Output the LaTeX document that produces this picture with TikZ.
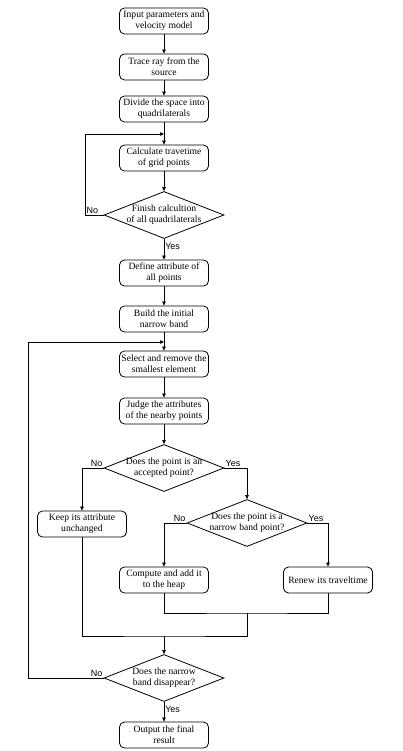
\documentclass[tikz,border=0pt]{standalone}
\usepackage{fontspec}
\setmainfont{Liberation Serif}
\newfontfamily\lblfont{Liberation Sans}
\usetikzlibrary{arrows.meta,shapes.geometric}

\begin{document}
\begin{tikzpicture}[x=1pt,y=-1pt,
  every node/.style={font=\fontsize{9.6}{10.8}\selectfont},
  box/.style={draw,thick,rounded corners=5pt,minimum width=89pt,minimum height=26pt,inner sep=1pt,align=center,fill=white},
  dec/.style={draw,thick,diamond,aspect=2.55,inner sep=-3pt,minimum width=120pt,minimum height=47pt,align=center},
  lbl/.style={font=\lblfont\fontsize{9}{10}\selectfont,inner sep=1pt},
  arr/.style={-{Triangle[length=4pt,width=3.5pt]},semithick},
  ln/.style={semithick}]
 \useasboundingbox (0,0) rectangle (402,751);
 \node[box] (in)      at (164,21)  {Input parameters and\\velocity model};
 \node[box] (trace)   at (164,67)  {Trace ray from the\\source};
 \node[box] (divide)  at (164,109) {Divide the space into\\quadrilaterals};
 \node[box] (calc)    at (164,158) {Calculate travetime\\of grid points};
 \node[dec] (fin)     at (164,215) {Finish calcultion\\of all quadrilaterals};
 \node[box] (define)  at (164,273) {Define attribute of\\all points};
 \node[box] (build)   at (164,319) {Build the initial\\narrow band};
 \node[box] (select)  at (164,364) {Select and remove the\\smallest element};
 \node[box] (judge)   at (164,411) {Judge the attributes\\of the nearby points};
 \node[dec] (acc)     at (164,468) {Does the point is an\\accepted point?};
 \node[dec] (nb)      at (247,523) {Does the point is a\\narrow band point?};
 \node[box] (keep)    at (82,524)  {Keep its attribute\\unchanged};
 \node[box] (compute) at (164,580) {Compute and add it\\to the heap};
 \node[box] (renew)   at (328,580) {Renew its traveltime};
 \node[dec] (empty)   at (164,678) {Does the narrow\\band disappear?};
 \node[box] (out)     at (164,735) {Output the final\\result};
 % joints
 \coordinate (j1) at (164,134);
 \coordinate (j2) at (164,342);
 \coordinate (m1) at (247,613);
 \coordinate (m2) at (164,636);
 \foreach \a/\b in {in/trace,trace/divide,divide/calc,calc/fin,define/build,build/select,select/judge,judge/acc}
  \draw[arr] (\a) -- (\b);
 \draw[arr] (fin) -- node[lbl,right,pos=0.35]{Yes} (define);
 \draw[arr] (fin.west) -- node[lbl,above,pos=0.6]{No} (85,215) |- (j1);
 \draw[arr] (acc.west) node[lbl,above left]{No} -| (keep.north);
 \draw[arr] (acc.east) node[lbl,above right]{Yes} -| (nb.north);
 \draw[arr] (nb.west) node[lbl,above left]{No} -| (compute.north);
 \draw[arr] (nb.east) node[lbl,above right]{Yes} -| (renew.north);
 \draw[ln] (compute.south) |- (m1) -| (renew.south);
 \draw[ln] (keep.south) |- (m2) -| (m1);
 \draw[arr] (m2) -- (empty.north);
 \draw[arr] (empty.west) node[lbl,above left]{No} -- (28,678) |- (j2);
 \draw[arr] (empty) -- node[lbl,right,pos=0.4]{Yes} (out);
\end{tikzpicture}
\end{document}
